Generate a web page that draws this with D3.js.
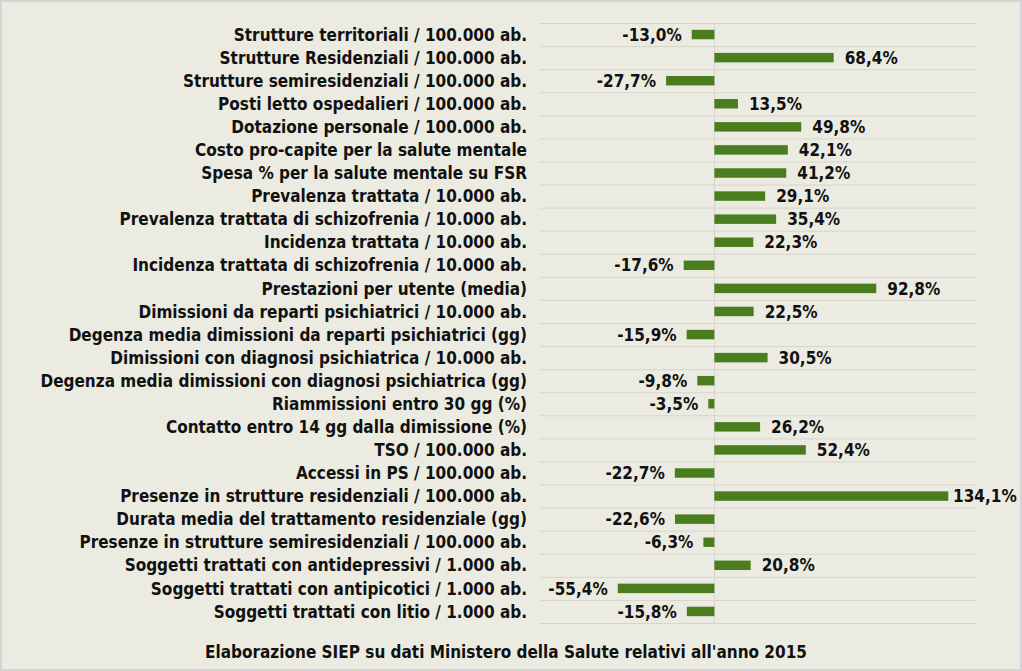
<!DOCTYPE html>
<html>
<head>
<meta charset="utf-8">
<script src="https://cdn.jsdelivr.net/npm/d3@7"></script>
<style>
  body { margin: 0; background: #fff; }
  svg { display: block; }
</style>
</head>
<body>
<div id="chart"></div>
<script>
// Indicator names (top to bottom) and % variation
const categories = [
  "Strutture territoriali / 100.000 ab.",
  "Strutture Residenziali / 100.000 ab.",
  "Strutture semiresidenziali / 100.000 ab.",
  "Posti letto ospedalieri / 100.000 ab.",
  "Dotazione personale / 100.000 ab.",
  "Costo pro-capite per la salute mentale",
  "Spesa % per la salute mentale su FSR",
  "Prevalenza trattata / 10.000 ab.",
  "Prevalenza trattata di schizofrenia / 10.000 ab.",
  "Incidenza trattata / 10.000 ab.",
  "Incidenza trattata di schizofrenia / 10.000 ab.",
  "Prestazioni per utente (media)",
  "Dimissioni da reparti psichiatrici / 10.000 ab.",
  "Degenza media dimissioni da reparti psichiatrici (gg)",
  "Dimissioni con diagnosi psichiatrica / 10.000 ab.",
  "Degenza media dimissioni con diagnosi psichiatrica (gg)",
  "Riammissioni entro 30 gg (%)",
  "Contatto entro 14 gg dalla dimissione (%)",
  "TSO / 100.000 ab.",
  "Accessi in PS / 100.000 ab.",
  "Presenze in strutture residenziali / 100.000 ab.",
  "Durata media del trattamento residenziale (gg)",
  "Presenze in strutture semiresidenziali / 100.000 ab.",
  "Soggetti trattati con antidepressivi / 1.000 ab.",
  "Soggetti trattati con antipicotici / 1.000 ab.",
  "Soggetti trattati con litio / 1.000 ab."
];
const values = [
  -13.0, 68.4, -27.7, 13.5, 49.8, 42.1, 41.2, 29.1, 35.4, 22.3,
  -17.6, 92.8, 22.5, -15.9, 30.5, -9.8, -3.5, 26.2, 52.4, -22.7,
  134.1, -22.6, -6.3, 20.8, -55.4, -15.8
];
const xDomain = [-100, 150];
const caption = "Elaborazione SIEP su dati Ministero della Salute relativi all'anno 2015";

const width = 1022, height = 671;
const font = "'DejaVu Sans Condensed', 'DejaVu Sans', sans-serif";
const fontSize = 17;

const it = d3.formatLocale({ decimal: ",", thousands: ".", grouping: [3], currency: ["€", ""], minus: "-" });
const fmt = v => it.format(".1f")(v) + "%";

const data = categories.map((c, i) => ({ name: c, value: values[i] }));

const svg = d3.select("#chart").append("svg")
  .attr("width", width)
  .attr("height", height);

// chart frame
svg.append("rect")
  .attr("x", 1).attr("y", 1)
  .attr("width", width - 2).attr("height", height - 2)
  .attr("fill", "#ecebe1")
  .attr("stroke", "#d4d4d4")
  .attr("stroke-width", 2);

const x = d3.scaleLinear().domain(xDomain).range([540, 976]);
const y = d3.scaleBand().domain(categories).range([23, 623]).paddingInner(0.59).paddingOuter(0.295);

// horizontal gridlines on row boundaries
const step = y.step();
svg.append("g")
  .selectAll("line")
  .data(d3.range(categories.length + 1))
  .join("line")
  .attr("x1", x.range()[0]).attr("x2", x.range()[1])
  .attr("y1", i => 23 + i * step + 0.5)
  .attr("y2", i => 23 + i * step + 0.5)
  .attr("stroke", "#d6d5cc")
  .attr("stroke-width", 1);

// zero line
svg.append("line")
  .attr("x1", Math.round(x(0)) + 0.5).attr("x2", Math.round(x(0)) + 0.5)
  .attr("y1", 23).attr("y2", 623)
  .attr("stroke", "#d6d5cc");

// bars
svg.append("g")
  .selectAll("rect")
  .data(data)
  .join("rect")
  .attr("x", d => x(Math.min(0, d.value)))
  .attr("width", d => Math.abs(x(d.value) - x(0)))
  .attr("y", d => y(d.name))
  .attr("height", y.bandwidth())
  .attr("fill", "#4a7d1e");

// category labels
svg.append("g")
  .attr("font-family", font)
  .attr("font-weight", "bold")
  .attr("font-size", fontSize)
  .attr("fill", "#111")
  .attr("text-anchor", "end")
  .selectAll("text")
  .data(data)
  .join("text")
  .attr("x", 527)
  .attr("y", d => y(d.name) + y.bandwidth() / 2)
  .attr("dy", "0.36em")
  .text(d => d.name);

// value labels
svg.append("g")
  .attr("font-family", font)
  .attr("font-weight", "bold")
  .attr("font-size", fontSize)
  .attr("fill", "#111")
  .selectAll("text")
  .data(data)
  .join("text")
  .attr("x", d => d.value < 0 ? x(d.value) - 10 : Math.min(x(d.value) + 11, 953))
  .attr("y", d => y(d.name) + y.bandwidth() / 2)
  .attr("dy", "0.36em")
  .attr("text-anchor", d => d.value < 0 ? "end" : "start")
  .text(d => fmt(d.value));

// caption
svg.append("text")
  .attr("x", 506).attr("y", 652)
  .attr("dy", "0.36em")
  .attr("text-anchor", "middle")
  .attr("font-family", font)
  .attr("font-weight", "bold")
  .attr("font-size", fontSize)
  .attr("fill", "#111")
  .text(caption);
</script>
</body>
</html>
